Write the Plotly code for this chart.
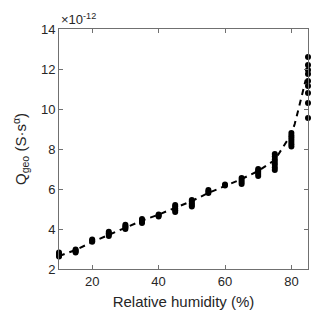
import plotly.graph_objects as go

# Measured points (units of 1e-12 S·s^alpha), grouped by relative humidity
rh_points = (
    [10] * 4 + [15] * 4 + [20] * 3 + [25] * 4 + [30] * 4 + [35] * 4 + [40] * 3
    + [45] * 5 + [50] * 5 + [55] * 3 + [60] * 2 + [65] * 4 + [70] * 5
    + [75] * 7 + [80] * 7 + [85] * 9
)
q_points = [
    2.62, 2.68, 2.75, 2.82,
    2.82, 2.88, 2.93, 2.98,
    3.36, 3.42, 3.48,
    3.65, 3.72, 3.79, 3.86,
    4.0, 4.07, 4.14, 4.21,
    4.3, 4.37, 4.44, 4.5,
    4.62, 4.67, 4.72,
    4.85, 4.94, 5.03, 5.12, 5.2,
    5.12, 5.2, 5.28, 5.37, 5.45,
    5.8, 5.88, 5.95,
    6.18, 6.22,
    6.25, 6.35, 6.45, 6.55,
    6.65, 6.75, 6.85, 6.93, 7.0,
    6.95, 7.08, 7.22, 7.35, 7.48, 7.62, 7.75,
    8.13, 8.24, 8.35, 8.46, 8.57, 8.68, 8.8,
    9.55, 10.3, 10.8, 11.15, 11.4, 11.75, 11.95, 12.2, 12.6,
]

# Fitted trend (dashed)
rh_fit = [10, 15, 20, 25, 30, 35, 40, 45, 50, 55, 60, 65, 70, 75, 80, 81, 82, 83, 84.3]
q_fit = [2.65, 2.95, 3.35, 3.72, 4.08, 4.42, 4.72, 5.05, 5.4, 5.8, 6.15, 6.5, 6.9,
         7.45, 8.75, 9.25, 9.9, 10.55, 11.45]

x_ticks = [20, 40, 60, 80]
y_ticks = [2, 4, 6, 8, 10, 12, 14]

font = "Liberation Sans, Arial, sans-serif"
ink = "#262626"

fig = go.Figure()
fig.add_trace(go.Scatter(
    x=rh_fit, y=q_fit, mode="lines",
    line=dict(color="black", width=2, dash="6px,5px"),
    hoverinfo="skip",
))
fig.add_trace(go.Scatter(
    x=rh_points, y=q_points, mode="markers",
    marker=dict(color="black", size=6, line_width=0),
    cliponaxis=False,
))

axis_common = dict(
    showline=True, linecolor="#707070", linewidth=1, mirror="ticks",
    ticks="inside", ticklen=4, tickcolor="#707070",
    showgrid=False, zeroline=False,
    tickfont=dict(family=font, size=13, color=ink),
)

fig.update_xaxes(
    range=[10, 85], tickvals=x_ticks,
    title=dict(text="Relative humidity (%)", font=dict(family=font, size=15, color=ink), standoff=8),
    **axis_common,
)
fig.update_yaxes(
    range=[2, 14], tickvals=y_ticks,
    title=dict(text="Q<sub>geo</sub> (S·s<sup>α</sup>)", font=dict(family=font, size=15, color=ink), standoff=10),
    **axis_common,
)

fig.add_annotation(
    x=0, y=1, xref="paper", yref="paper", xanchor="left", yanchor="bottom",
    text="×10<sup>-12</sup>", showarrow=False, yshift=0,
    font=dict(family=font, size=13, color=ink),
)

fig.update_layout(
    width=320, height=326,
    margin=dict(l=59, r=12, t=29, b=57),
    paper_bgcolor="white", plot_bgcolor="white",
    showlegend=False,
)

fig.write_html(
    "out.html",
    config={"displayModeBar": False},
    post_script="document.body.style.margin='0';",
)
